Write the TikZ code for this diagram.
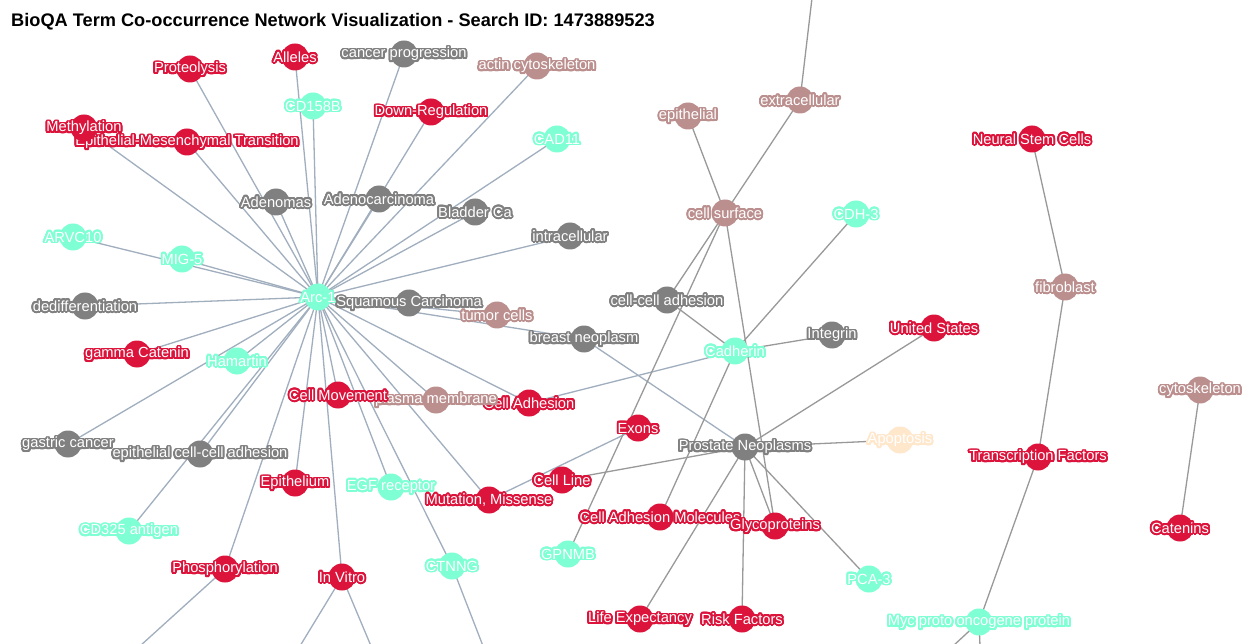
\documentclass[tikz,border=0pt]{standalone}
\usepackage{fontspec}
\setmainfont{Liberation Sans}
\usepackage{contour}
\contourlength{1.8pt}
\contournumber{28}
\usetikzlibrary{backgrounds}

\definecolor{termred}{RGB}{220,20,60}
\definecolor{termteal}{RGB}{127,255,212}
\definecolor{termgray}{RGB}{128,128,128}
\definecolor{termrose}{RGB}{188,143,143}
\definecolor{termpeach}{RGB}{255,231,204}
\definecolor{hubedge}{RGB}{160,174,190}
\definecolor{plainedge}{RGB}{153,153,153}

\tikzset{
  termdot/.style={circle, minimum size=27pt, inner sep=0pt, draw=none},
  termlabel/.style={inner sep=0pt, text=white, font=\fontsize{14.7}{14.7}\selectfont},
  hublink/.style={draw=hubedge, line width=1.3pt},
  plainlink/.style={draw=plainedge, line width=1.3pt},
}

% \term{name}{x}{y}{colour}{label}: a filled dot with its haloed label
\newcommand\term[5]{%
  \node[termdot, fill=#4] (#1) at (#2,#3) {};
  \node[termlabel] (#1-lbl) at (#2,#3+1) {\contour{#4}{#5}};
}

\begin{document}
\begin{tikzpicture}[x=1pt, y=-1pt]
\useasboundingbox (0,0) rectangle (1250,644);

\node[anchor=west, inner sep=0pt, font=\bfseries\fontsize{18.2}{18.2}\selectfont] (title) at (11,22)
  {BioQA Term Co-occurrence Network Visualization - Search ID: 1473889523};

% terms
\term{prot}{190}{69}{termred}{Proteolysis}
\term{alle}{295}{57}{termred}{Alleles}
\term{canc}{404}{54}{termgray}{cancer progression}
\term{actin}{537}{66}{termrose}{actin cytoskeleton}
\term{cdb}{313}{106}{termteal}{CD158B}
\term{downreg}{431}{112}{termred}{Down-Regulation}
\term{emt}{187}{142}{termred}{Epithelial-Mesenchymal Transition}
\term{meth}{84}{128}{termred}{Methylation}
\term{cad}{557}{139}{termteal}{CAD11}
\term{epi}{688}{116}{termrose}{epithelial}
\term{extra}{800}{100}{termrose}{extracellular}
\term{nsc}{1032}{139}{termred}{Neural Stem Cells}
\term{adenomas}{276}{202}{termgray}{Adenomas}
\term{adenoca}{379}{199}{termgray}{Adenocarcinoma}
\term{bladder}{475}{212}{termgray}{Bladder Ca}
\term{cellsurf}{725}{213}{termrose}{cell surface}
\term{cdh}{856}{214}{termteal}{CDH-3}
\term{intra}{570}{236}{termgray}{intracellular}
\term{arvc}{73}{237}{termteal}{ARVC10}
\term{mig}{182}{259}{termteal}{MIG-5}
\term{arc}{318}{297}{termteal}{Arc-1}
\term{squam}{409}{303}{termgray}{Squamous Carcinoma}
\term{tumor}{497}{315}{termrose}{tumor cells}
\term{dediff}{85}{306}{termgray}{dedifferentiation}
\term{ccadh}{667}{300}{termgray}{cell-cell adhesion}
\term{fibro}{1065}{287}{termrose}{fibroblast}
\term{breast}{584}{339}{termgray}{breast neoplasm}
\term{integrin}{832}{335}{termgray}{Integrin}
\term{us}{934}{328}{termred}{United States}
\term{cadherin}{735}{351}{termteal}{Cadherin}
\term{gcat}{137}{354}{termred}{gamma Catenin}
\term{hamartin}{237}{361}{termteal}{Hamartin}
\term{cytosk}{1200}{390}{termrose}{cytoskeleton}
\term{celladh}{529}{403}{termred}{Cell Adhesion}
\term{plasma}{436}{400}{termrose}{plasma membrane}
\term{cellmov}{338}{395}{termred}{Cell Movement}
\term{exons}{638}{428}{termred}{Exons}
\term{prostate}{745}{447}{termgray}{Prostate Neoplasms}
\term{apop}{900}{440}{termpeach}{Apoptosis}
\term{ecca}{200}{454}{termgray}{epithelial cell-cell adhesion}
\term{gastric}{68}{444}{termgray}{gastric cancer}
\term{tf}{1038}{457}{termred}{Transcription Factors}
\term{epithelium}{295}{483}{termred}{Epithelium}
\term{egfr}{391}{487}{termteal}{EGF receptor}
\term{mut}{489}{500}{termred}{Mutation, Missense}
\term{cellline}{562}{480}{termred}{Cell Line}
\term{cam}{660}{517}{termred}{Cell Adhesion Molecules}
\term{glyco}{775}{526}{termred}{Glycoproteins}
\term{catenins}{1180}{528}{termred}{Catenins}
\term{cdx}{129}{531}{termteal}{CD325 antigen}
\term{gpnmb}{568}{554}{termteal}{GPNMB}
\term{ctnng}{452}{566}{termteal}{CTNNG}
\term{pca}{869}{579}{termteal}{PCA-3}
\term{phos}{225}{569}{termred}{Phosphorylation}
\term{invitro}{342}{577}{termred}{In Vitro}
\term{life}{640}{619}{termred}{Life Expectancy}
\term{risk}{742}{619}{termred}{Risk Factors}
\term{myc}{979}{622}{termteal}{Myc proto oncogene protein}

% links leaving the visible area
\coordinate (outA) at (812,-2);
\coordinate (outB) at (140,646);
\coordinate (outC) at (300,646);
\coordinate (outD) at (371,646);
\coordinate (outE) at (483,646);
\coordinate (outF) at (953,646);
\coordinate (outG) at (980,646);

\begin{pgfonlayer}{background}
\fill[white] (0,0) rectangle (1250,644);
% hub around Arc-1
\foreach \t in {prot,alle,canc,actin,cdb,downreg,emt,meth,cad,adenomas,adenoca,
  bladder,intra,arvc,mig,squam,tumor,dediff,breast,gcat,hamartin,cellmov,plasma,
  celladh,gastric,ecca,epithelium,egfr,mut,cdx,phos,invitro,ctnng}
  \draw[hublink] (arc.center) -- (\t.center);
\draw[hublink] (breast.center) -- (prostate.center);
\draw[hublink] (celladh.center) -- (cadherin.center);
\draw[hublink] (mut.center) -- (exons.center);
\draw[hublink] (phos.center) -- (outB);
\draw[hublink] (invitro.center) -- (outC);
\draw[hublink] (invitro.center) -- (outD);
\draw[hublink] (ctnng.center) -- (outE);
% remaining links
\draw[plainlink] (extra.center) -- (outA);
\draw[plainlink] (extra.center) -- (cellsurf.center);
\draw[plainlink] (epi.center) -- (cellsurf.center);
\draw[plainlink] (cellsurf.center) -- (ccadh.center);
\draw[plainlink] (cellsurf.center) -- (gpnmb.center);
\draw[plainlink] (cellsurf.center) -- (glyco.center);
\draw[plainlink] (ccadh.center) -- (cadherin.center);
\draw[plainlink] (cadherin.center) -- (cdh.center);
\draw[plainlink] (cadherin.center) -- (integrin.center);
\draw[plainlink] (cadherin.center) -- (cam.center);
\draw[plainlink] (prostate.center) -- (us.center);
\draw[plainlink] (prostate.center) -- (apop.center);
\draw[plainlink] (prostate.center) -- (cellline.center);
\draw[plainlink] (prostate.center) -- (life.center);
\draw[plainlink] (prostate.center) -- (risk.center);
\draw[plainlink] (prostate.center) -- (glyco.center);
\draw[plainlink] (prostate.center) -- (pca.center);
\draw[plainlink] (nsc.center) -- (fibro.center);
\draw[plainlink] (fibro.center) -- (tf.center);
\draw[plainlink] (tf.center) -- (myc.center);
\draw[plainlink] (myc.center) -- (outF);
\draw[plainlink] (myc.center) -- (outG);
\draw[plainlink] (cytosk.center) -- (catenins.center);
\end{pgfonlayer}
\end{tikzpicture}
\end{document}
